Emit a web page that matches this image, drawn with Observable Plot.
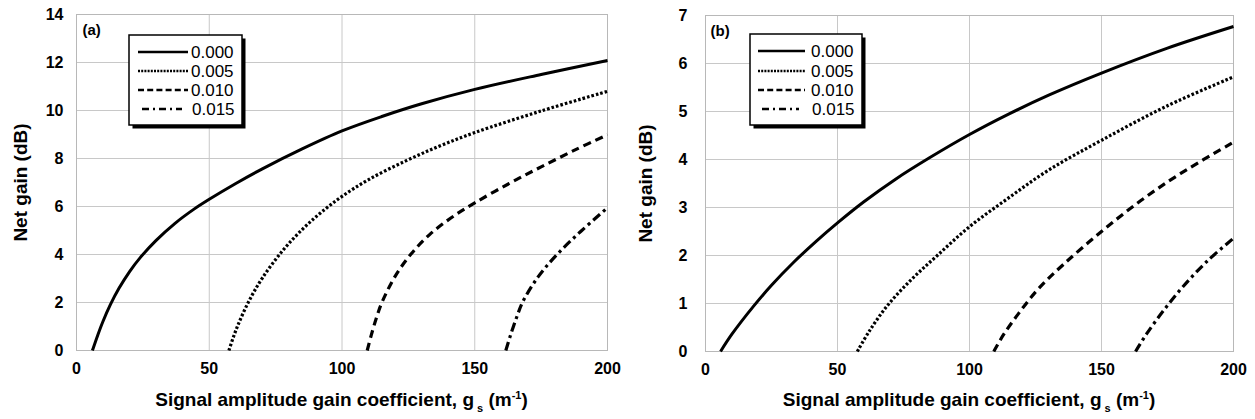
<!DOCTYPE html>
<html><head><meta charset="utf-8">
<script src="https://cdn.jsdelivr.net/npm/d3@7"></script>
<script src="https://cdn.jsdelivr.net/npm/@observablehq/plot@0.6"></script>
<style>
html,body{margin:0;padding:0;background:#fff;}
#chart{display:flex;width:1255px;height:419px;}
svg{display:block;}
</style></head><body><div id="chart"></div>
<script>
// ---- data ----
const lossValues = ["0.000", "0.005", "0.010", "0.015"];
const panelLabels = ["(a)", "(b)"];
const xTicks = [0, 50, 100, 150, 200];
const yTicksA = [0, 2, 4, 6, 8, 10, 12, 14];
const yTicksB = [0, 1, 2, 3, 4, 5, 6, 7];
const xTitle = ["Signal amplitude gain coefficient, g", "s", " (m", "-1", ")"];
const yTitle = "Net gain (dB)";

// panel (a)
const aX0 = [6, 8, 10, 12.8, 16, 20, 24, 30, 37, 44, 50, 60, 70, 85, 100, 115, 130, 150, 175, 200];
const aY0 = [0, 0.64, 1.22, 1.92, 2.59, 3.29, 3.87, 4.59, 5.29, 5.87, 6.3, 6.96, 7.57, 8.4, 9.15, 9.75, 10.28, 10.88, 11.5, 12.08];
const aX1 = [57.4, 59, 61, 65, 70, 77.5, 85, 92, 100, 110, 124, 137, 150, 175, 200];
const aY1 = [0, 0.53, 1.11, 2.07, 3.02, 4.14, 5.04, 5.74, 6.42, 7.12, 7.9, 8.53, 9.08, 9.98, 10.8];
const aX2 = [109.5, 111, 113, 115, 120, 126, 133, 141, 150, 163, 175, 188, 200];
const aY2 = [0, 0.63, 1.37, 1.99, 3.09, 4.02, 4.83, 5.52, 6.15, 6.96, 7.65, 8.37, 8.99];
const aX3 = [161.7, 163.5, 166, 168, 174, 181, 190, 200];
const aY3 = [0, 0.65, 1.45, 2.01, 3.09, 4.0, 4.97, 5.95];

// panel (b)
const bX0 = [5.7, 10, 18.3, 25, 33.4, 42, 50, 60, 72, 85, 100, 115, 130, 150, 175, 200];
const bY0 = [0, 0.36, 0.95, 1.38, 1.86, 2.3, 2.68, 3.12, 3.59, 4.04, 4.52, 4.95, 5.34, 5.8, 6.32, 6.77];
const bX1 = [57.5, 62, 68.8, 78, 87.8, 100, 114.3, 130, 150, 175, 200];
const bY1 = [0, 0.42, 0.95, 1.5, 2.0, 2.6, 3.18, 3.78, 4.4, 5.12, 5.72];
const bX2 = [109.2, 113, 118.7, 126, 135.7, 150, 164.8, 180, 200];
const bY2 = [0, 0.36, 0.8, 1.3, 1.82, 2.5, 3.14, 3.71, 4.36];
const bX3 = [162.9, 167, 173.6, 181, 190, 200];
const bY3 = [0, 0.36, 0.86, 1.36, 1.88, 2.36];

// ---- build tables ----
function rows(xs, ys, k) { return xs.map((g, i) => ({g, G: ys[i], loss: lossValues[k]})); }
const dataA = [rows(aX0, aY0, 0), rows(aX1, aY1, 1), rows(aX2, aY2, 2), rows(aX3, aY3, 3)];
const dataB = [rows(bX0, bY0, 0), rows(bX1, bY1, 1), rows(bX2, bY2, 2), rows(bX3, bY3, 3)];

// ---- styles ----
const FONT = "'Liberation Sans', Arial, Helvetica, sans-serif";
const GRID = "#c8c8c8";
const curveDash = [null, "2.6,2", "8,5", "9,4,3,4"];
const legendDash = [null, "2,1.2", "6,3.2", "7,4,2,4"];

function panel(opts) {
  const {series, yTicks, width, ml, mr, mt, mb, tickPadY, labelDx, tag, tagDx, tagDy} = opts;
  const marks = [
    Plot.gridX(xTicks, {stroke: GRID, strokeOpacity: 1}),
    Plot.gridY(yTicks, {stroke: GRID, strokeOpacity: 1}),
    Plot.frame({stroke: "#b8b8b8"}),
    Plot.axisX(xTicks, {tickSize: 0, tickPadding: 12, label: null, fontSize: 16, fontWeight: "bold"}),
    Plot.axisY(yTicks, {tickSize: 0, tickPadding: tickPadY, label: null, fontSize: 16, fontWeight: "bold"}),
    Plot.text([yTitle], {frameAnchor: "left", rotate: -90, dx: labelDx, lineAnchor: "top", textAnchor: "middle", fontSize: 19, fontWeight: "bold", fill: "#000"}),
    Plot.text([tag], {frameAnchor: "top-left", dx: tagDx, dy: tagDy, lineAnchor: "top", textAnchor: "start", fontSize: 15, fontWeight: "bold", fill: "#000"})
  ];
  series.forEach((s, k) => {
    marks.push(Plot.line(s, {x: "g", y: "G", stroke: "#000", strokeWidth: k === 0 ? 3 : 3.2,
      strokeDasharray: curveDash[k], strokeLinecap: "butt", curve: "catmull-rom"}));
  });
  return Plot.plot({
    width, height: 419,
    marginLeft: ml, marginRight: mr, marginTop: mt, marginBottom: mb,
    x: {domain: [0, 200]},
    y: {domain: [0, yTicks[yTicks.length - 1]]},
    style: {fontFamily: FONT, fontSize: "16px", color: "#000", background: "#fff", overflow: "visible"},
    marks
  });
}

function addTitle(svg, cx, y) {
  const t = d3.select(svg).append("text")
    .attr("x", cx).attr("y", y).attr("text-anchor", "middle")
    .attr("font-family", FONT).attr("font-size", 19).attr("font-weight", "bold").attr("fill", "#000");
  t.append("tspan").text(xTitle[0]);
  t.append("tspan").attr("dy", 6).attr("dx", 3).attr("font-size", 11).text(xTitle[1]);
  t.append("tspan").attr("dy", -6).text(xTitle[2]);
  t.append("tspan").attr("dy", -7).attr("font-size", 11).text(xTitle[3]);
  t.append("tspan").attr("dy", 7).text(xTitle[4]);
}

function addLegend(svg, L) {
  const g = d3.select(svg).append("g").attr("text-anchor", "start");
  g.append("rect").attr("x", L.x + 3.5).attr("y", L.y + 3.5).attr("width", L.w).attr("height", L.h).attr("fill", "#000");
  g.append("rect").attr("x", L.x).attr("y", L.y).attr("width", L.w).attr("height", L.h)
    .attr("fill", "#fff").attr("stroke", "#000").attr("stroke-width", 1.5);
  lossValues.forEach((v, i) => {
    const y = L.rows[i];
    const x0 = i === 3 ? L.s0 + 4 : L.s0, x1 = i === 3 ? L.s1 - 6 : L.s1;
    g.append("line").attr("x1", x0).attr("x2", x1).attr("y1", y).attr("y2", y)
      .attr("stroke", "#000").attr("stroke-width", 2.6)
      .attr("stroke-dasharray", legendDash[i]);
    g.append("text").attr("x", L.tx + (i === 3 ? 1 : 0)).attr("y", y + 6)
      .attr("text-anchor", "start")
      .attr("font-family", FONT).attr("font-size", 17).attr("fill", "#000").text(v);
  });
}

const chart = document.getElementById("chart");

const svgA = panel({series: dataA, yTicks: yTicksA, width: 627, ml: 76, mr: 20, mt: 14, mb: 69,
  tickPadY: 13, labelDx: -63, tag: panelLabels[0], tagDx: 6, tagDy: 10});
addTitle(svgA, (76 + 607) / 2, 406);
addLegend(svgA, {x: 129, y: 35, w: 113, h: 90, s0: 138, s1: 188, tx: 191, rows: [52, 71, 90, 109]});
chart.appendChild(svgA);

const svgB = panel({series: dataB, yTicks: yTicksB, width: 628, ml: 78, mr: 22, mt: 15, mb: 68,
  tickPadY: 18, labelDx: -67, tag: panelLabels[1], tagDx: 5, tagDy: 10});
addTitle(svgB, (78 + 606) / 2, 406);
addLegend(svgB, {x: 123, y: 34, w: 112, h: 91, s0: 131, s1: 178, tx: 184, rows: [51, 71, 90, 109]});
chart.appendChild(svgB);
</script></body></html>
